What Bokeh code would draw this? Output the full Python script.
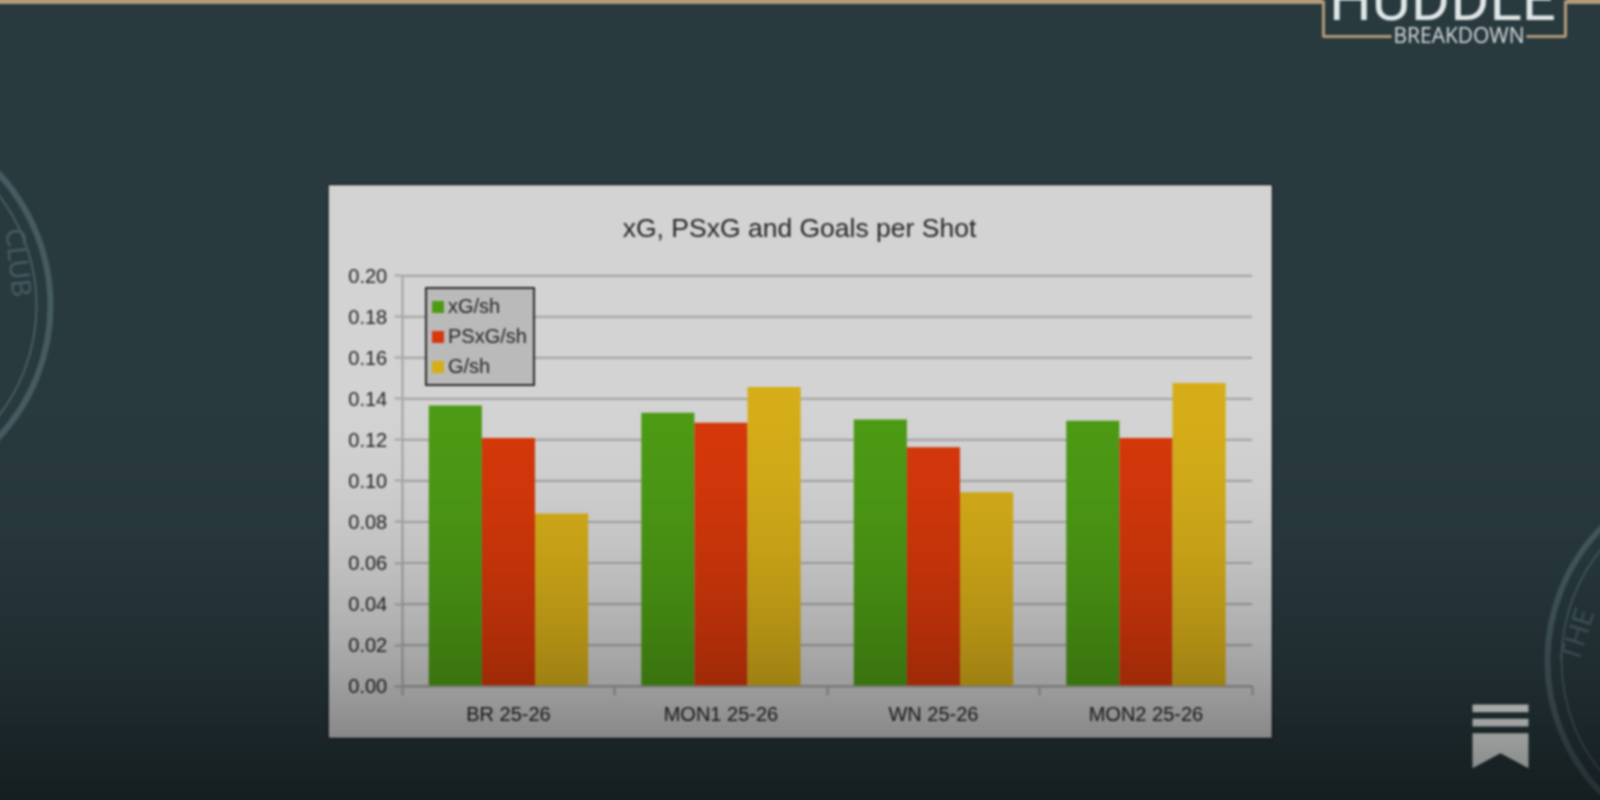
import numpy as np
from bokeh.plotting import figure
from bokeh.core.properties import value
from bokeh.models import (Range1d, LinearAxis, FixedTicker, Legend, LegendItem,
                          NumeralTickFormatter)
from bokeh.embed import file_html
from bokeh.resources import INLINE

categories = ["BR 25-26", "MON1 25-26", "WN 25-26", "MON2 25-26"]
xg_per_shot = [0.1368, 0.1333, 0.1299, 0.1294]
psxg_per_shot = [0.1209, 0.1284, 0.1164, 0.1209]
g_per_shot = [0.0841, 0.1458, 0.0945, 0.1478]
y_ticks = [0.00, 0.02, 0.04, 0.06, 0.08, 0.10, 0.12, 0.14, 0.16, 0.18, 0.20]
title_text = "xG, PSxG and Goals per Shot"

W, H = 1600, 800
BLEED = 3  # canvas overhang so the soft edge falls outside the window
FONT = "Liberation Sans"
BG = "#293a3f"
p = figure(width=W + 2 * BLEED, height=H + 2 * BLEED, output_backend="svg", toolbar_location=None,
           x_range=Range1d(-BLEED, W + BLEED), y_range=Range1d(H + BLEED, -BLEED),
           x_axis_location=None, y_axis_location=None, min_border=0,
           margin=(-BLEED, -BLEED, -BLEED, -BLEED), outline_line_color=None,
           background_fill_color=BG, border_fill_color=BG,
           styles={"filter": "blur(0.8px)"})
p.grid.visible = False

# data scales that map onto the pixel area of the embedded chart
ax_left, ax_right, ax_top, ax_bottom = 401.7, 1251.7, 275.3, 685.6
cw = (ax_right - ax_left) / 4
vu = 0.2 / (ax_bottom - ax_top)
p.extra_x_ranges["cat"] = Range1d(-0.5 - (ax_left + BLEED) / cw, -0.5 + (W + BLEED - ax_left) / cw)
p.extra_y_ranges["val"] = Range1d(-(H + BLEED - ax_bottom) * vu, 0.2 + (ax_top + BLEED) * vu)

BG_RING = "#465c61"
# seals
p.circle(x=[-144], y=[305], radius=194, fill_color=None, line_color=BG_RING, line_width=6)
p.circle(x=[-144], y=[305], radius=180, fill_color=None, line_color=BG_RING, line_width=2)
p.circle(x=[1737], y=[660], radius=190, fill_color=None, line_color=BG_RING, line_width=6)
p.circle(x=[1737], y=[660], radius=176, fill_color=None, line_color=BG_RING, line_width=2)
p.text(x=[19], y=[262], text=["CLUB"], angle=[-84], angle_units="deg", text_color=BG_RING,
       text_font=value("Lato"), text_font_size="27px", text_align="center", text_baseline="middle")
p.text(x=[1567], y=[660], text=["THE"], angle=[72], angle_units="deg", text_color=BG_RING,
       text_font=value("Lato"), text_font_size="28px", text_align="left", text_baseline="middle")

# top rule and logo
TAN = "#b39a78"
p.quad(left=[-BLEED, 1566], right=[1322, W + BLEED], top=[-BLEED, -BLEED], bottom=[3.5, 3.5],
       fill_color=TAN, line_color=None)
p.line(x=[1391, 1323, 1323], y=[36, 36, 0], line_color=TAN, line_width=3)
p.line(x=[1526, 1565, 1565], y=[36, 36, 0], line_color=TAN, line_width=3)
p.text(x=[1442], y=[-1.5], text=["HUDDLE"], text_color="#dfe6e6", text_font=value("Roboto"),
       text_font_size="60px", text_align="center", text_baseline="middle")
p.text(x=[1458.5], y=[34], text=["BREAKDOWN"], text_color="#d6dcdc", text_font=value("Open Sans"),
       text_font_size="21px", text_align="center", text_baseline="middle")

# bookmark icon
p.quad(left=[1472, 1472], right=[1528, 1528], top=[704, 718.3], bottom=[711.7, 726],
       fill_color="#eef0f0", line_color=None)
p.patch(x=[1472, 1528, 1528, 1500, 1472], y=[732.7, 732.7, 767.7, 752.7, 767.7],
        fill_color="#eef0f0", line_color=None)

# chart panel
p.quad(left=[327.5], right=[1272], top=[184], bottom=[738], fill_color="#d3d3d3",
       line_color="#1b2327", line_width=1.5)

kw = dict(x_range_name="cat", y_range_name="val")
GRID = "#a6a6a6"
TXT = "#242424"

# gridlines come from the tick list
p.segment(x0=[-0.5] * len(y_ticks), x1=[3.5] * len(y_ticks), y0=y_ticks, y1=y_ticks,
          line_color=GRID, line_width=2.2, **kw)

pos = np.arange(len(categories), dtype=float)
bw = 0.25
r1 = p.vbar(x=pos - bw, top=xg_per_shot, bottom=0, width=bw, fill_color="#4d9a15", line_color=None, **kw)
r2 = p.vbar(x=pos, top=psxg_per_shot, bottom=0, width=bw, fill_color="#d5380b", line_color=None, **kw)
r3 = p.vbar(x=pos + bw, top=g_per_shot, bottom=0, width=bw, fill_color="#d5ad19", line_color=None, **kw)

# value axis
ya = LinearAxis(fixed_location=-0.5, bounds=(0, 0.2), ticker=FixedTicker(ticks=y_ticks),
                formatter=NumeralTickFormatter(format="0.00"), **kw)
ya.axis_line_color = GRID
ya.axis_line_width = 2.2
ya.major_tick_line_color = GRID
ya.major_tick_line_width = 2.2
ya.major_tick_in = 0
ya.major_tick_out = 8
ya.minor_tick_line_color = None
ya.major_label_standoff = 7
ya.major_label_text_font = FONT
ya.major_label_text_font_size = "20px"
ya.major_label_text_color = TXT
p.add_layout(ya, "left")

# category axis: boundary ticks as minor ticks, labels at group centres
xa = LinearAxis(fixed_location=0, bounds=(-0.5, 3.5),
                ticker=FixedTicker(ticks=list(pos), minor_ticks=[-0.5, 0.5, 1.5, 2.5, 3.5]), **kw)
xa.major_label_overrides = {i: c for i, c in enumerate(categories)}
xa.axis_line_color = GRID
xa.axis_line_width = 2.2
xa.major_tick_line_color = None
xa.minor_tick_line_color = GRID
xa.minor_tick_line_width = 2.2
xa.minor_tick_in = 0
xa.minor_tick_out = 9
xa.major_tick_in = 0
xa.major_tick_out = 0
xa.major_label_standoff = 8
xa.major_label_text_font = FONT
xa.major_label_text_font_size = "20px"
xa.major_label_text_color = TXT
p.add_layout(xa, "below")

# title
p.text(x=[799], y=[227], text=[title_text], text_color="#262626", text_font=value(FONT),
       text_font_size="26.5px", text_align="center", text_baseline="middle")

# legend
legend = Legend(items=[LegendItem(label="xG/sh", renderers=[r1]),
                       LegendItem(label="PSxG/sh", renderers=[r2]),
                       LegendItem(label="G/sh", renderers=[r3])],
                location=(425 + BLEED, H - 386 + BLEED), orientation="vertical", margin=0,
                padding=3, spacing=1, glyph_width=15, glyph_height=15,
                label_standoff=3, label_height=29, label_width=82,
                background_fill_color="#bababa", background_fill_alpha=1,
                border_line_color="#2c2c2c", border_line_width=2.5, border_line_alpha=1,
                label_text_font=FONT, label_text_font_size="20px", label_text_color=TXT)
p.add_layout(legend, "center")

# dimming toward the bottom of the frame
ys = np.arange(H)
alpha = np.where(ys > 380, 0.5 * ((ys - 380) / 420.0) ** 2, 0)
a8 = (alpha * 255).astype(np.uint32)
img = (a8 << 24).reshape(H, 1)
p.image_rgba(image=[img], x=[-BLEED], y=[-BLEED], dw=[W + 2 * BLEED], dh=[H + 2 * BLEED], level="overlay")

open("out.html", "w").write(file_html(p, INLINE))
